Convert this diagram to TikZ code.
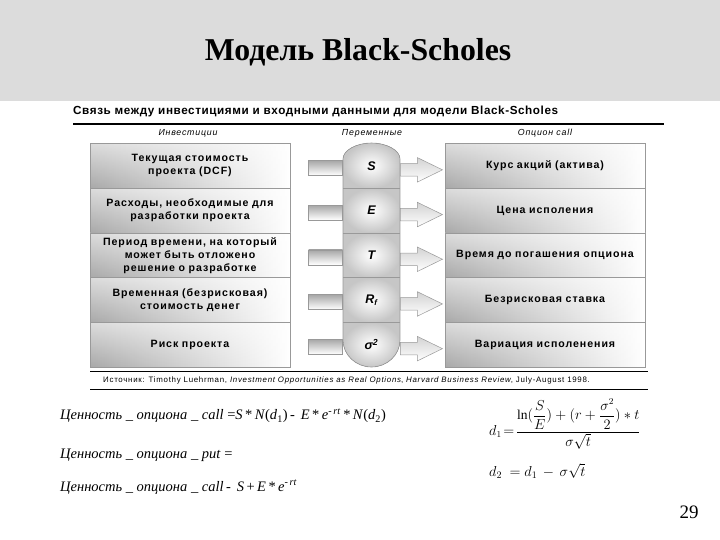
\documentclass[tikz,border=0pt]{standalone}
\usepackage{amsmath}
\usepackage{fontspec}
\setmainfont{Liberation Serif}
\newfontfamily\boxfont[LetterSpace=9]{Liberation Sans}
\newfontfamily\subfont[LetterSpace=5]{Liberation Sans}
\usetikzlibrary{shapes.arrows,fadings}
\definecolor{band}{HTML}{DCDCDC}
\tikzset{
  lbl/.style={inner sep=0pt},
  invbox/.style={line width=0.6pt, minimum width=200pt, minimum height=44.7pt,
    text width=198pt, align=center, inner sep=0pt,
    font=\boxfont\fontsize{10.6}{13}\selectfont\bfseries,
    left color=gray!68, middle color=gray!40, right color=white,
    postaction={fill=white, fill opacity=0.6, path fading=south},
    postaction={draw=gray!80}},
  optbox/.style={invbox},
  pillcell/.style={minimum width=57pt, minimum height=44.7pt, inner sep=0pt,
    font=\boxfont\fontsize{12.5}{14}\selectfont\bfseries\itshape},
  stub/.style={draw=gray!80, line width=0.5pt, minimum width=34pt, minimum height=15pt, inner sep=0pt,
    top color=gray!70, bottom color=white},
  outarrow/.style={single arrow, draw=gray!80, line width=0.5pt, inner xsep=0pt, inner ysep=6pt,
    minimum height=42pt, single arrow head extend=6pt, single arrow tip angle=52,
    top color=gray!35, bottom color=white},
  hdr/.style={inner sep=0pt, font=\boxfont\fontsize{8.8}{10}\selectfont\itshape},
  formula/.style={inner sep=0pt, anchor=west, font=\fontsize{14.5}{16}\selectfont}
}
\begin{document}
\begin{tikzpicture}[x=1pt,y=-1pt]
\useasboundingbox (0,0) rectangle (720,540);
\fill[white] (0,0) rectangle (720,540);
\fill[band] (0,0) rectangle (720,101);
\node[lbl, font=\fontsize{31.8}{34}\selectfont\bfseries] (title) at (358,52) {Модель Black-Scholes};
\node[lbl, anchor=west, font=\subfont\fontsize{11.7}{13}\selectfont\bfseries] (sub) at (73,111) {Связь между инвестициями и входными данными для модели Black-Scholes};
\coordinate (tl1) at (73,124); \coordinate (tl2) at (664,124);
\draw[line width=1.6pt] (tl1) -- (tl2);
\node[hdr] (h1) at (188,133) {Инвестиции};
\node[hdr] (h2) at (372,133) {Переменные};
\node[hdr] (h3) at (545,133) {Опцион call};
% left boxes
\foreach \i/\c/\t in {1/165.85/{Текущая стоимость\\проекта (DCF)},
                      2/210.55/{Расходы, необходимые для\\разработки проекта},
                      3/255.25/{Период времени, на который\\может быть отложено\\решение о разработке},
                      4/299.95/{Временная (безрисковая)\\стоимость денег},
                      5/344.65/{Риск проекта}}
  \node[invbox] (L\i) at (190,\c) {\t};
\foreach \i/\c/\t in {1/165.85/{Курс акций (актива)},
                      2/210.55/{Цена исполения},
                      3/255.25/{Время до погашения опциона},
                      4/299.95/{Безрисковая ставка},
                      5/344.65/{Вариация исполенения}}
  \node[optbox] (R\i) at (545,\c) {\t};
% pill
\begin{scope}
\clip (343,159) .. controls (343,150) and (357,143) .. (371.5,143) .. controls (386,143) and (400,150) .. (400,159)
  -- (400,340) .. controls (400,355) and (387,367) .. (371.5,367) .. controls (356,367) and (343,355) .. (343,340) -- cycle;
\foreach \a/\b in {143/188.2,188.2/232.9,232.9/277.6,277.6/322.3,322.3/367}
  \fill[inner color=white, outer color=gray!45] (343,\a) rectangle (400,\b);
\end{scope}
\draw[gray!80, line width=0.6pt] (343,159) .. controls (343,150) and (357,143) .. (371.5,143) .. controls (386,143) and (400,150) .. (400,159)
  -- (400,340) .. controls (400,355) and (387,367) .. (371.5,367) .. controls (356,367) and (343,355) .. (343,340) -- cycle;
\foreach \y in {188.2,232.9,277.6,322.3}
  \draw[gray!80, line width=0.6pt] (343,\y) -- (400,\y);
\node[pillcell] (v1) at (371.5,165.85) {S};
\node[pillcell] (v2) at (371.5,210.55) {E};
\node[pillcell] (v3) at (371.5,255.25) {T};
\node[pillcell] (v4) at (371.5,299.95) {R\textsubscript{\fontsize{8}{9}\selectfont f}};
\node[pillcell] (v5) at (371.5,344.65) {σ\textsuperscript{2}};
\foreach \i in {1,...,5}{
  \node[stub, anchor=east] (s\i) at ([yshift=-2pt]v\i.west) {};
  \node[outarrow, anchor=tail] (a\i) at ([yshift=-4pt]v\i.east) {};
}
% source
\coordinate (sl1) at (90,371); \coordinate (sl2) at (648,371);
\coordinate (sl3) at (90,389); \coordinate (sl4) at (648,389);
\draw[line width=0.8pt] (sl1) -- (sl2);
\draw[line width=0.8pt] (sl3) -- (sl4);
\node[lbl, anchor=west, font=\boxfont\fontsize{7.9}{8}\selectfont] (src) at (103,380)
  {Источник: Timothy Luehrman, \textit{Investment Opportunities as Real Options}, \textit{Harvard Business Review}, July-August 1998.};
% formulas
\node[formula] (f1) at (60,416) {\textit{Ценность \_ опциона \_ call} =\textit{S}\,*\,\textit{N}(\textit{d}\textsubscript{1})\,-\, \textit{E}\,*\,\textit{e}\textsuperscript{-\,\textit{rt}}\,*\,\textit{N}(\textit{d}\textsubscript{2})};
\node[formula] (f2) at (60,455) {\textit{Ценность \_ опциона \_ put} =};
\node[formula] (f3) at (60,487) {\textit{Ценность \_ опциона \_ call}\,-\, \textit{S}\,+\,\textit{E}\,*\,\textit{e}\textsuperscript{-\,\textit{rt}}};
\node[formula, font=\fontsize{13.5}{15}\selectfont] (f4) at (489,424) {$d_1\!=\!\dfrac{\ln(\dfrac{S}{E})+(r+\dfrac{\sigma^2}{2})*t}{\sigma\sqrt{t}}$};
\node[formula, font=\fontsize{14}{16}\selectfont] (f5) at (489,471) {$d_2\ =d_1\,-\,\sigma\sqrt{t}$};
\node[lbl, font=\fontsize{19}{22}\selectfont] (pg) at (689,512) {29};
\end{tikzpicture}
\end{document}
